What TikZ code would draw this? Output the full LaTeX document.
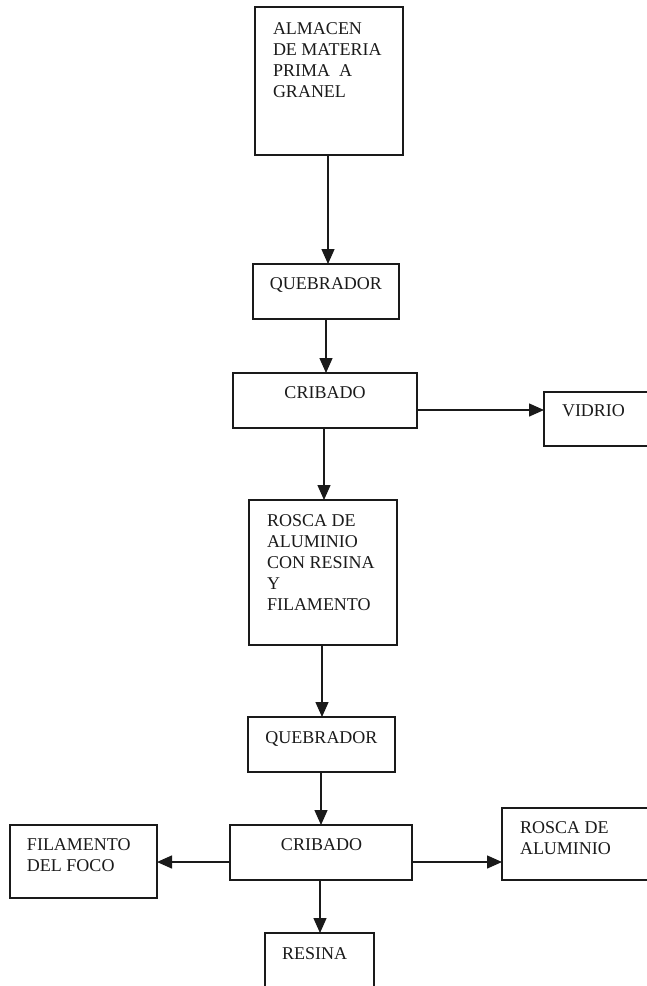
\documentclass[tikz,border=0pt]{standalone}
\usepackage{fontspec}
\setmainfont{Liberation Serif}
\usetikzlibrary{arrows.meta}
\definecolor{ink}{HTML}{1A1A1A}
\begin{document}
\begin{tikzpicture}[x=1pt,y=-1pt,
  box/.style={draw=ink, line width=1.4pt, rectangle, inner sep=0pt, outer sep=0pt},
  txt/.style={text=ink, inner sep=0pt, outer sep=0pt, align=left,
    font=\fontsize{18}{20.8}\selectfont},
  arr/.style={draw=ink, line width=1.4pt, -{Triangle[width=13pt,length=15pt]}}]
\useasboundingbox (0,0) rectangle (647,986);
% boxes
\node[box, minimum width=148pt, minimum height=148pt] (b1) at (329,81) {};
\node[box, minimum width=146pt, minimum height=55pt] (q1) at (326,291.5) {};
\node[box, minimum width=184pt, minimum height=55pt] (c1) at (325,400.5) {};
\node[box, minimum width=108pt, minimum height=54pt] (v) at (598,419) {};
\node[box, minimum width=148pt, minimum height=145pt] (r1) at (323,572.5) {};
\node[box, minimum width=147pt, minimum height=55pt] (q2) at (321.5,744.5) {};
\node[box, minimum width=182pt, minimum height=55pt] (c2) at (321,852.5) {};
\node[box, minimum width=147pt, minimum height=73pt] (f) at (83.5,861.5) {};
\node[box, minimum width=150pt, minimum height=72pt] (ra) at (577,844) {};
\node[box, minimum width=109pt, minimum height=67pt] (res) at (319.5,966.5) {};
% texts
\node[txt, anchor=north west] (t1) at (273,23) {ALMACEN\\DE MATERIA\\PRIMA~ A\\GRANEL};
\node[txt, anchor=north] (t2) at (326,278) {QUEBRADOR};
\node[txt, anchor=north] (t3) at (325,387) {CRIBADO};
\node[txt, anchor=north west] (t4) at (562,405) {VIDRIO};
\node[txt, anchor=north west] (t5) at (267,515) {ROSCA DE\\ALUMINIO\\CON RESINA\\Y\\FILAMENTO};
\node[txt, anchor=north] (t6) at (321.5,732) {QUEBRADOR};
\node[txt, anchor=north] (t7) at (321.5,839) {CRIBADO};
\node[txt, anchor=north west] (t8) at (27,839) {FILAMENTO\\DEL FOCO};
\node[txt, anchor=north west] (t9) at (520,822) {ROSCA DE\\ALUMINIO};
\node[txt, anchor=north west] (t10) at (282,948) {RESINA};
% connector guide coordinates
\coordinate (xa) at (328,0);
\coordinate (xb) at (326,0);
\coordinate (xc) at (324,0);
\coordinate (xd) at (322,0);
\coordinate (xe) at (321,0);
\coordinate (xf) at (320,0);
\coordinate (ya) at (0,410);
\coordinate (yb) at (0,862);
% connectors
\draw[arr] (xa |- b1.south) -- (xa |- q1.north);
\draw[arr] (xb |- q1.south) -- (xb |- c1.north);
\draw[arr] (c1.east |- ya) -- (v.west |- ya);
\draw[arr] (xc |- c1.south) -- (xc |- r1.north);
\draw[arr] (xd |- r1.south) -- (xd |- q2.north);
\draw[arr] (xe |- q2.south) -- (xe |- c2.north);
\draw[arr] (c2.west |- yb) -- (f.east |- yb);
\draw[arr] (c2.east |- yb) -- (ra.west |- yb);
\draw[arr] (xf |- c2.south) -- (xf |- res.north);
\end{tikzpicture}
\end{document}
